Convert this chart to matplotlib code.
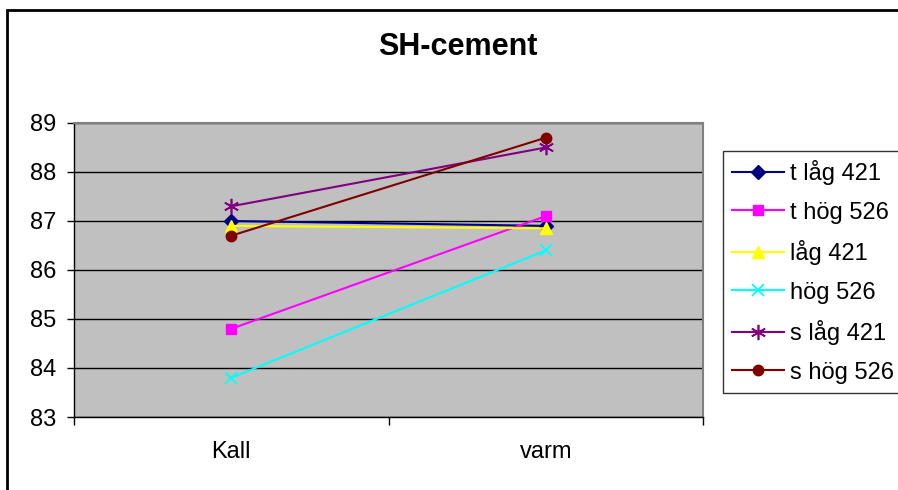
import matplotlib.pyplot as plt
from matplotlib.patches import Rectangle

categories = ["Kall", "varm"]
series_names = ["t låg 421", "t hög 526", "låg 421", "hög 526", "s låg 421", "s hög 526"]
t_lag_421 = [87.0, 86.9]
t_hog_526 = [84.8, 87.1]
lag_421 = [86.9, 86.85]
hog_526 = [83.8, 86.4]
s_lag_421 = [87.3, 88.5]
s_hog_526 = [86.7, 88.7]
y_ticks = [83, 84, 85, 86, 87, 88, 89]

styles = [
    dict(color="#000080", marker="D", ms=7),
    dict(color="#FF00FF", marker="s", ms=7),
    dict(color="#FFFF00", marker="^", ms=8),
    dict(color="#00FFFF", marker="x", ms=9, mew=1.3),
    dict(color="#800080", marker=(6, 2, 0), ms=11, mew=1.2),
    dict(color="#800000", marker="o", ms=7.5),
]

plt.rcParams["font.family"] = ["Liberation Sans", "DejaVu Sans"]

fig = plt.figure(figsize=(8.98, 4.9), dpi=100)
W, H = 898, 490
ax = fig.add_axes([74 / W, (H - 417) / H, 629 / W, 294 / H])
ax.set_facecolor("#C0C0C0")

xs = range(len(categories))
for name, vals, st in zip(series_names,
                          [t_lag_421, t_hog_526, lag_421, hog_526, s_lag_421, s_hog_526],
                          styles):
    ax.plot(xs, vals, label=name, lw=1.5, zorder=3, **st)

ax.set_xlim(-0.5, len(categories) - 0.5)
ax.set_ylim(y_ticks[0], y_ticks[-1])
ax.set_yticks(y_ticks)
ax.grid(axis="y", color="black", lw=1.0, zorder=1)
ax.set_axisbelow(True)

ax.set_xticks(list(xs))
ax.set_xticklabels(categories)
ax.set_xticks([-0.5, 0.5, 1.5], minor=True)
ax.tick_params(axis="x", which="major", length=0, pad=17, labelsize=17)
ax.tick_params(axis="x", which="minor", length=6, width=1, direction="out")
ax.tick_params(axis="y", length=5, width=1, pad=8, labelsize=17)

for side in ("top", "right"):
    ax.spines[side].set_color("#808080")
    ax.spines[side].set_linewidth(1.5)
for side in ("left", "bottom"):
    ax.spines[side].set_color("black")
    ax.spines[side].set_linewidth(1.0)

fig.text(458 / W, 1 - 47 / H, "SH-cement", ha="center", va="center",
         fontsize=22, fontweight="bold")

leg = ax.legend(loc="upper left", bbox_to_anchor=(723 / W, 1 - 151 / H),
                bbox_transform=fig.transFigure, fontsize=17, frameon=True,
                fancybox=False, edgecolor="black", handlelength=2.2,
                handletextpad=0.25, labelspacing=0.7, borderpad=0.38,
                borderaxespad=0)
leg.get_frame().set_linewidth(1.0)

# outer chart border, running off the right and bottom edges
fig.patches.append(Rectangle((7 / W, -0.1), 1.2, 1.1 - 10 / H, transform=fig.transFigure,
                             fill=False, edgecolor="black", lw=2, zorder=10))

fig.savefig("out.png", dpi=100)
